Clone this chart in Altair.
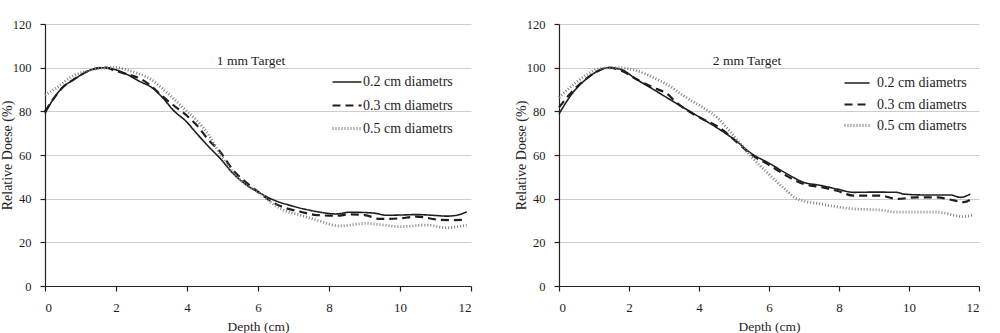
import altair as alt
import pandas as pd

SERIES = ["0.2 cm diametrs", "0.3 cm diametrs", "0.5 cm diametrs"]

# ---- 1 mm Target ----
L02_x = [0, 0.25, 0.5, 0.8, 1.1, 1.4, 1.7, 2.0, 2.3, 2.68, 3.0, 3.3, 3.61, 4.0, 4.27, 4.6, 4.93, 5.3, 5.7,
         6.06, 6.5, 7.0, 7.65, 8.2, 8.59, 9.25, 9.62, 10.0, 10.47, 11.0, 11.3, 11.6, 11.88]
L02_y = [79, 86, 91, 94.4, 97.5, 99.5, 100, 99, 97, 93.6, 91, 86.5, 80.6, 75, 69.9, 64, 58.5, 51.5, 46,
         42.5, 39, 36.5, 34.1, 33, 33.8, 33.4, 32.4, 32.5, 32.7, 32.3, 32, 32.4, 34]
L03_x = [0, 0.25, 0.5, 0.8, 1.1, 1.4, 1.7, 2.0, 2.3, 2.68, 3.0, 3.3, 3.61, 4.0, 4.27, 4.6, 4.93, 5.3, 5.7,
         6.06, 6.4, 6.8, 7.2, 7.65, 8.2, 8.59, 9.0, 9.44, 10.0, 10.47, 11.13, 11.5, 11.8]
L03_y = [80, 86, 91, 94.5, 97.5, 99.5, 100, 98.5, 97, 95, 91.5, 87, 82.9, 78, 73.7, 67, 61.5, 53, 47,
         42.5, 38.5, 35.6, 34, 32.5, 32.2, 32.8, 32.5, 30.7, 31, 31.8, 30.3, 30.2, 30.3]
L05_x = [0, 0.3, 0.8, 1.2, 1.6, 2.0, 2.3, 2.68, 3.0, 3.3, 3.61, 4.0, 4.27, 4.6, 4.93, 5.3, 5.7, 6.06, 6.43,
         6.71, 7.18, 7.65, 8.31, 9.06, 9.5, 10.0, 10.75, 11.3, 11.88]
L05_y = [87.5, 90.5, 96.3, 98.5, 99.8, 100, 99, 97, 94.5, 90.5, 86, 80, 76, 69.5, 60.5, 52, 46, 42.5, 37.5,
         34.8, 32.5, 30.2, 27.5, 28.7, 28, 27.2, 27.9, 26.7, 27.9]

# ---- 2 mm Target ----
R02_x = [0, 0.37, 0.75, 1.13, 1.42, 1.8, 2.18, 2.66, 3.13, 3.61, 4.09, 4.56, 5.04, 5.47, 6.04, 6.5, 6.99,
         7.5, 7.94, 8.42, 9.0, 9.66, 9.85, 10.42, 11.18, 11.47, 11.75]
R02_y = [78.8, 88, 94.4, 98.6, 100, 99, 95, 90.4, 85.8, 81.2, 76.6, 72, 66.7, 61, 55.9, 51.5, 47.5,
         46, 44.4, 42.9, 43, 42.9, 42.1, 41.7, 41.7, 40.6, 42.1]
R03_x = [0, 0.37, 0.75, 1.13, 1.42, 1.8, 2.18, 2.66, 3.13, 3.32, 3.71, 4.09, 4.56, 5.04, 5.47, 6.04, 6.5,
         6.99, 7.5, 7.94, 8.42, 9.18, 9.66, 10.23, 10.8, 11.28, 11.56, 11.85]
R03_y = [81.8, 89, 94.6, 98.6, 100, 98.5, 95, 91.1, 87.5, 84.5, 80, 76.6, 72.8, 66.5, 60.5, 55.1, 50.5,
         46.7, 45.3, 43.6, 41.4, 41.4, 39.9, 40.6, 40.6, 39.2, 38.4, 40.6]
R05_x = [0, 0.37, 0.75, 1.13, 1.7, 2.18, 2.66, 3.13, 3.61, 4.09, 4.56, 4.94, 5.51, 6.04, 6.51, 6.8, 7.47,
         8.42, 9.18, 9.66, 10.8, 11.56, 11.85]
R05_y = [86.4, 91.7, 96.3, 99.5, 100, 98.8, 95.7, 91.9, 86.6, 82, 76.6, 69.7, 59, 50.5, 43.6, 39.9, 37.6,
         35.3, 34.8, 33.8, 33.8, 31.8, 32.7]

X_TICKS = [0, 2, 4, 6, 8, 10, 12]
Y_TICKS = [0, 20, 40, 60, 80, 100, 120]

SERIF = "Liberation Serif"
INK = "#1e1e1e"


def frame(xs_list, ys_list):
    rows = []
    for name, xs, ys in zip(SERIES, xs_list, ys_list):
        for i, (x, y) in enumerate(zip(xs, ys)):
            rows.append({"series": name, "depth": x, "dose": y, "i": i})
    return pd.DataFrame(rows)


def panel(df, title, width, title_dx, legend_x, legend_y, sym_len, label_off):
    legend = alt.Legend(
        orient="none", legendX=legend_x, legendY=legend_y, title=None,
        symbolType="stroke", symbolSize=sym_len * sym_len, labelOffset=label_off,
        labelFont=SERIF, labelFontSize=14, labelColor=INK, rowPadding=23.5 - sym_len,
        symbolStrokeColor=INK,
    )
    sort = SERIES
    return alt.Chart(df).mark_line(interpolate="monotone").encode(
        x=alt.X("depth:Q", scale=alt.Scale(domain=[0, 12], nice=False, zero=False),
                axis=alt.Axis(values=X_TICKS, title="Depth (cm)", grid=False,
                              tickSize=5, labelPadding=10, titlePadding=5)),
        y=alt.Y("dose:Q", scale=alt.Scale(domain=[0, 120], nice=False),
                axis=alt.Axis(values=Y_TICKS, title="Relative Doese (%)", grid=True,
                              tickSize=5, labelPadding=9, labelFontSize=12.5,
                              titleFontSize=14, titleX=-38, titleBaseline="middle")),
        order="i:Q",
        color=alt.Color("series:N", sort=sort,
                        scale=alt.Scale(domain=SERIES, range=[INK, INK, "#808080"]),
                        legend=legend),
        strokeDash=alt.StrokeDash("series:N", sort=sort,
                                  scale=alt.Scale(domain=SERIES, range=[[1, 0], [8, 5], [1, 2]]),
                                  legend=legend),
        strokeWidth=alt.StrokeWidth("series:N", sort=sort,
                                    scale=alt.Scale(domain=SERIES, range=[1.6, 2.8, 0.9]),
                                    legend=legend),
    ).properties(
        width=width, height=262,
        title=alt.TitleParams(text=title, offset=-49, dx=title_dx, anchor="middle", frame="group",
                              font=SERIF, fontSize=13.5, fontWeight="normal", color=INK),
    )


left = panel(frame([L02_x, L03_x, L05_x], [L02_y, L03_y, L05_y]), "1 mm Target", 426, -7, 286, 42.5, 29, 0)
right = panel(frame([R02_x, R03_x, R05_x], [R02_y, R03_y, R05_y]), "2 mm Target", 420, -22, 284, 45.5, 25, 6)

chart = alt.hconcat(left, right, spacing=41).resolve_scale(
    color="independent", strokeDash="independent", strokeWidth="independent"
).resolve_legend(
    color="independent", strokeDash="independent", strokeWidth="independent"
).properties(
    padding={"left": 0, "top": 18, "right": 5, "bottom": 0}, background="white"
).configure_view(stroke=None).configure_axis(
    labelFont=SERIF, labelFontSize=13, labelColor=INK,
    titleFont=SERIF, titleFontSize=13.5, titleFontWeight="normal", titleColor=INK,
    domainColor="#222222", domainWidth=1.2, tickColor="#222222", tickWidth=1.2,
    gridColor="#cccccc", gridWidth=1,
)

chart.save("out.html", embed_options={"renderer": "svg", "actions": False})
